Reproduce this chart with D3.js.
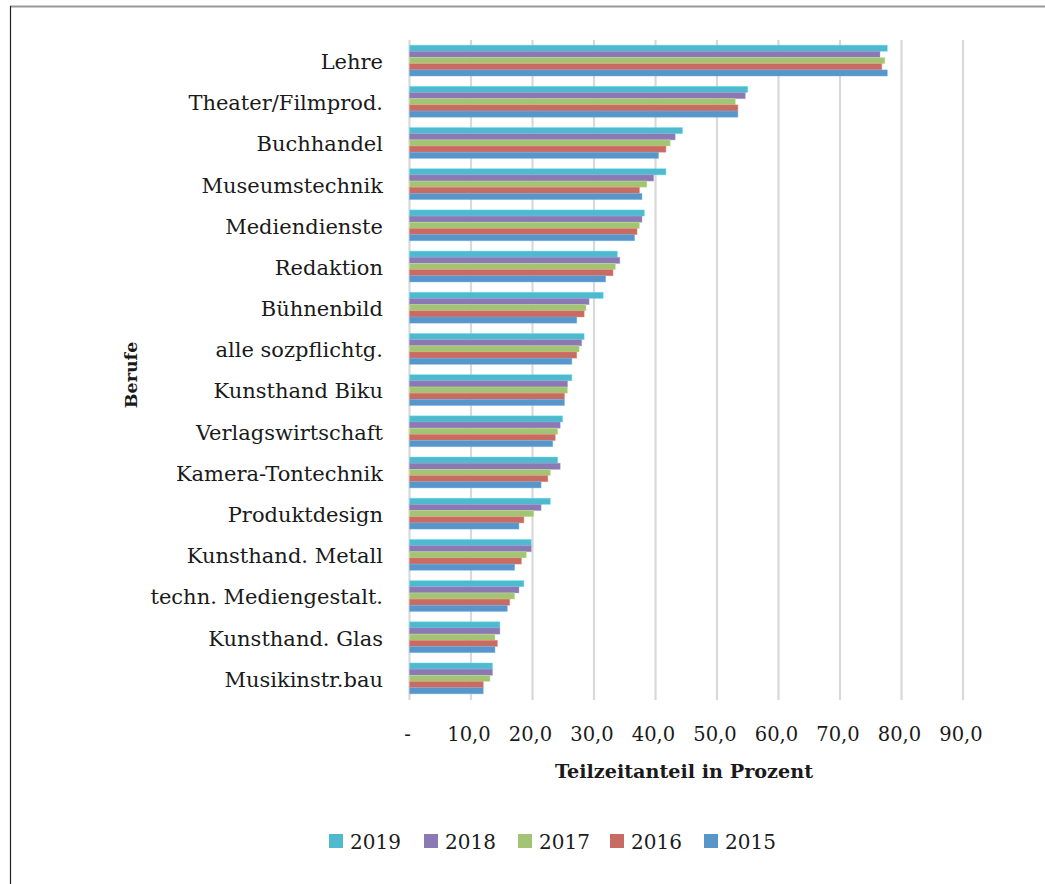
<!DOCTYPE html>
<html>
<head>
<meta charset="utf-8">
<script src="https://cdn.jsdelivr.net/npm/d3@7"></script>
<style>
  html, body { margin: 0; padding: 0; background: #fff; }
  svg { display: block; }
  text { font-family: "DejaVu Serif", serif; fill: #1a1a1a; }
</style>
</head>
<body>
<svg id="chart" width="1045" height="884"></svg>
<script>
const categories = ["Lehre", "Theater/Filmprod.", "Buchhandel", "Museumstechnik", "Mediendienste",
  "Redaktion", "Bühnenbild", "alle sozpflichtg.", "Kunsthand Biku", "Verlagswirtschaft",
  "Kamera-Tontechnik", "Produktdesign", "Kunsthand. Metall", "techn. Mediengestalt.",
  "Kunsthand. Glas", "Musikinstr.bau"];
const years = ["2019", "2018", "2017", "2016", "2015"];
const v2019 = [77.7, 55.0, 44.4, 41.7, 38.2, 33.8, 31.5, 28.4, 26.4, 24.9, 24.1, 22.9, 19.8, 18.6, 14.7, 13.5];
const v2018 = [76.5, 54.6, 43.2, 39.7, 37.8, 34.2, 29.2, 28.0, 25.7, 24.5, 24.5, 21.4, 19.8, 17.8, 14.7, 13.5];
const v2017 = [77.3, 53.0, 42.4, 38.6, 37.4, 33.5, 28.7, 27.6, 25.7, 24.1, 22.9, 20.2, 19.0, 17.1, 13.9, 13.1];
const v2016 = [76.8, 53.4, 41.7, 37.4, 37.0, 33.1, 28.4, 27.2, 25.2, 23.7, 22.5, 18.6, 18.2, 16.3, 14.3, 12.0];
const v2015 = [77.7, 53.4, 40.5, 37.8, 36.6, 31.9, 27.2, 26.4, 25.2, 23.3, 21.4, 17.8, 17.1, 15.9, 13.9, 12.0];
const seriesValues = [v2019, v2018, v2017, v2016, v2015];
const colors = ["#4FB9CE", "#8A79B2", "#A3C475", "#C86B62", "#5895C8"];
const tickValues = [0, 10, 20, 30, 40, 50, 60, 70, 80, 90];
const tickLabels = ["-", "10,0", "20,0", "30,0", "40,0", "50,0", "60,0", "70,0", "80,0", "90,0"];

const svg = d3.select("#chart");

// chart border (top grey, left dark)
svg.append("line").attr("x1", 10).attr("x2", 1045).attr("y1", 6.5).attr("y2", 6.5)
  .attr("stroke", "#999").attr("stroke-width", 2);
svg.append("line").attr("x1", 10.5).attr("x2", 10.5).attr("y1", 6).attr("y2", 884)
  .attr("stroke", "#222").attr("stroke-width", 1.2);

const x = d3.scaleLinear().domain([0, 90]).range([409.5, 963]);
const y = d3.scaleBand().domain(categories).range([40, 699]).paddingInner(0.25).paddingOuter(0.125);
const yInner = d3.scaleBand().domain(years).range([0, y.bandwidth()]);

const plotTop = 40, plotBottom = 700;

// gridlines
svg.append("g").selectAll("line").data(tickValues).join("line")
  .attr("x1", d => x(d)).attr("x2", d => x(d))
  .attr("y1", plotTop).attr("y2", plotBottom)
  .attr("stroke", "#d9d9d9").attr("stroke-width", 2.2);

// bars
const groups = svg.append("g").selectAll("g").data(categories).join("g")
  .attr("transform", d => `translate(0,${y(d)})`);
groups.selectAll("rect").data((c, i) => years.map((yr, j) => ({yr, j, v: seriesValues[j][i]})))
  .join("rect")
  .attr("x", x(0))
  .attr("y", d => yInner(d.yr))
  .attr("width", d => x(d.v) - x(0))
  .attr("height", yInner.bandwidth())
  .attr("fill", d => colors[d.j])
  .attr("stroke", d => d3.color(colors[d.j]).brighter(0.6))
  .attr("stroke-opacity", 0.5)
  .attr("stroke-width", 0.8);

// category labels
svg.append("g").selectAll("text").data(categories).join("text")
  .attr("x", 383)
  .attr("y", d => y(d) + y.bandwidth() / 2 + 1)
  .attr("dy", "0.35em")
  .attr("text-anchor", "end")
  .attr("font-size", 21)
  .text(d => d);

// x tick labels
svg.append("g").selectAll("text").data(tickValues).join("text")
  .attr("x", d => x(d) - 2)
  .attr("y", 741)
  .attr("text-anchor", "middle")
  .attr("font-size", 19.5)
  .text((d, i) => tickLabels[i]);

// axis titles
svg.append("text").attr("x", 684).attr("y", 778).attr("text-anchor", "middle")
  .attr("font-size", 19.2).attr("font-weight", "bold")
  .text("Teilzeitanteil in Prozent");
svg.append("text").attr("transform", "translate(137,375) rotate(-90)").attr("text-anchor", "middle")
  .attr("font-size", 17.5).attr("font-weight", "bold")
  .text("Berufe");

// legend
const legendX = [329, 424, 518, 610, 704];
const lg = svg.append("g").selectAll("g").data(years).join("g")
  .attr("transform", (d, i) => `translate(${legendX[i]},834)`);
lg.append("rect").attr("width", 14).attr("height", 14).attr("fill", (d, i) => colors[i]);
lg.append("text").attr("x", 21).attr("y", 15).attr("font-size", 20).text(d => d);
</script>
</body>
</html>
